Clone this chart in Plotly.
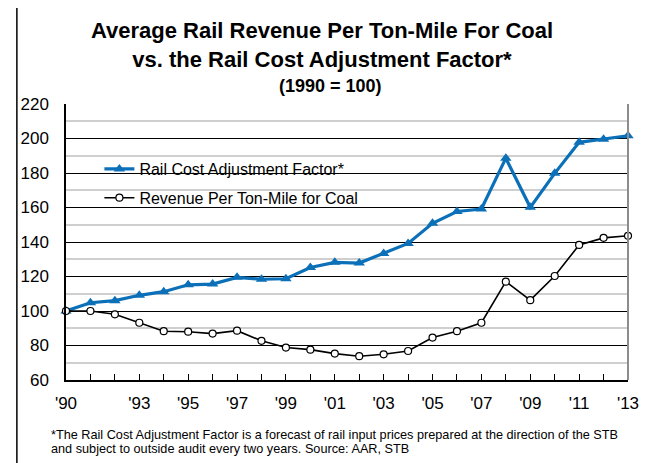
import plotly.graph_objects as go

years = list(range(1990, 2014))
tick_labels = ["'90", "", "", "'93", "", "'95", "", "'97", "", "'99", "", "'01", "",
               "'03", "", "'05", "", "'07", "", "'09", "", "'11", "", "'13"]
rcaf = [100, 104.8, 106, 109.1, 111.2, 115.2, 115.6, 119.5, 118.4, 118.7, 125.2, 128.2,
        127.8, 133.4, 139.2, 150.8, 157.7, 159.1, 188.6, 160.1, 179.8, 197.8, 199.6, 201.6]
coal = [100, 100, 98.1, 93.2, 88.3, 88.0, 86.9, 88.6, 82.7, 78.8, 77.6, 75.3,
        73.8, 74.9, 76.8, 84.6, 88.3, 93.2, 117.0, 106.3, 120.3, 138.3, 142.4, 143.6]

title_lines = ["Average Rail Revenue Per Ton-Mile For Coal",
               "vs. the Rail Cost Adjustment Factor*"]
subtitle = "(1990 = 100)"
footnote = ["*The Rail Cost Adjustment Factor is a forecast of rail input prices prepared at the direction of the STB",
            "and subject to outside audit every two years. Source: AAR, STB"]

BLUE = "#0B70B8"
FONT = "Liberation Sans, Arial, sans-serif"

fig = go.Figure()
fig.add_trace(go.Scatter(
    x=years, y=rcaf, name="Rail Cost Adjustment Factor*", mode="lines+markers",
    line=dict(color=BLUE, width=3.2),
    marker=dict(symbol="triangle-up", size=10, color=BLUE),
    cliponaxis=False, legendgroup="a"))
fig.add_trace(go.Scatter(
    x=years, y=coal, name="Revenue Per Ton-Mile for Coal", mode="lines+markers",
    line=dict(color="black", width=1.6),
    marker=dict(symbol="circle", size=7, color="white", line=dict(color="black", width=1.2)),
    cliponaxis=False, legendgroup="b"))

# page has an 8px body margin; lay the figure out in page pixels minus that offset
OFF = 8
PAGE_W, PAGE_H = 651, 463
W, H = PAGE_W - OFF, PAGE_H - OFF
PL, PR, PT, PB = 62, 634, 104, 380  # plot area in page pixels
L, R, T, B = PL - OFF, PAGE_W - PR, PT - OFF, PAGE_H - PB
pw, ph = PR - PL, PB - PT

def px_x(p):
    return (p - PL) / pw

def px_y(p):
    return (PB - p) / ph

shapes = [
    dict(type="rect", xref="paper", yref="paper", x0=px_x(90), x1=px_x(384),
         y0=px_y(217), y1=px_y(146), fillcolor="white", line=dict(width=0), layer="between"),
    dict(type="line", xref="paper", yref="paper", x0=1, x1=1, y0=0, y1=1,
         line=dict(color="#8C8C8C", width=2)),
    dict(type="line", xref="paper", yref="paper", x0=px_x(12), x1=px_x(12),
         y0=px_y(470), y1=px_y(4), line=dict(color="black", width=1.5)),
    dict(type="line", xref="paper", yref="paper", x0=px_x(12), x1=px_x(660),
         y0=px_y(4), y1=px_y(4), line=dict(color="#444444", width=2)),
]

annotations = [
    dict(text="<b>" + subtitle + "</b>", xref="paper", yref="paper", x=px_x(331), y=px_y(86),
         showarrow=False, font=dict(size=18, color="black", family=FONT), xanchor="center", yanchor="middle"),
    dict(text=footnote[0], xref="paper", yref="paper", x=px_x(45), y=px_y(435),
         showarrow=False, font=dict(size=12.7, color="black", family=FONT), xanchor="left", yanchor="middle"),
    dict(text=footnote[1], xref="paper", yref="paper", x=px_x(45), y=px_y(449),
         showarrow=False, font=dict(size=12.7, color="black", family=FONT), xanchor="left", yanchor="middle"),
]

fig.update_layout(
    width=W, height=H,
    margin=dict(l=L, r=R, t=T, b=B),
    paper_bgcolor="white", plot_bgcolor="white",
    font=dict(family=FONT, color="black"),
    title=dict(text="<b>" + "<br>".join(title_lines) + "</b>", x=(322 - OFF) / W, xref="container",
               xanchor="center", y=1 - (38 - OFF) / H, yref="container", yanchor="middle",
               font=dict(size=22, color="black", family=FONT)),
    showlegend=True,
    legend=dict(x=px_x(96), y=px_y(152), xanchor="left", yanchor="top",
                bgcolor="rgba(0,0,0,0)", font=dict(size=16, color="black", family=FONT),
                traceorder="grouped", tracegroupgap=5, itemwidth=30),
    shapes=shapes,
    annotations=annotations,
)

fig.update_xaxes(
    range=[1990, 2013], tickvals=years, ticktext=tick_labels,
    ticks="inside", ticklen=6, tickcolor="black", tickwidth=1,
    showline=True, linecolor="black", linewidth=1.5, showgrid=False, zeroline=False,
    tickfont=dict(size=17, color="black", family=FONT), ticklabelstandoff=7,
)
fig.update_yaxes(
    range=[60, 220], dtick=20, tick0=60,
    showline=True, linecolor="black", linewidth=1.5,
    showgrid=True, gridcolor="black", gridwidth=1, zeroline=False,
    minor=dict(dtick=10, showgrid=True, gridcolor="#CFCFCF", gridwidth=2),
    tickfont=dict(size=17, color="black", family=FONT), ticklabelstandoff=12,
)

fig.write_html("out.html")
